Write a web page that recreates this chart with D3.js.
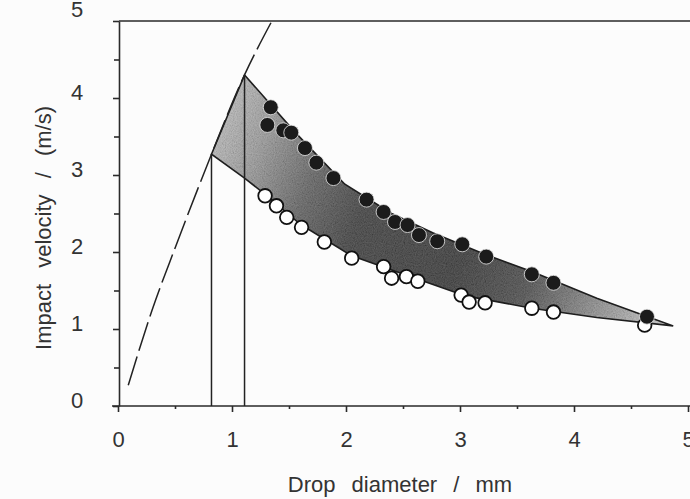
<!DOCTYPE html>
<html>
<head>
<meta charset="utf-8">
<script src="https://cdn.jsdelivr.net/npm/d3@7"></script>
<style>
  body { margin: 0; background: #fcfcfc; }
  svg { display: block; font-family: "Liberation Sans", Arial, sans-serif; }
  .axis path, .axis line { stroke: #2a2a2a; stroke-width: 1.6; }
  .axis text { fill: #333; font-size: 22px; }
  .label { fill: #333; font-size: 22px; word-spacing: 10px; }
</style>
</head>
<body>
<div id="chart-area"></div>
<script>
// drop diameter (mm) / impact velocity (m/s)
const filledD = [1.34, 1.31, 1.45, 1.52, 1.64, 1.74, 1.89, 2.18, 2.33, 2.43, 2.54, 2.64, 2.80, 3.02, 3.23, 3.63, 3.82, 4.64];
const filledV = [3.88, 3.65, 3.58, 3.55, 3.35, 3.16, 2.96, 2.68, 2.52, 2.39, 2.35, 2.22, 2.14, 2.10, 1.94, 1.71, 1.60, 1.16];

const openD = [1.29, 1.39, 1.48, 1.61, 1.81, 2.05, 2.33, 2.40, 2.53, 2.63, 3.01, 3.08, 3.22, 3.63, 3.82, 4.62];
const openV = [2.73, 2.60, 2.45, 2.32, 2.13, 1.92, 1.81, 1.66, 1.68, 1.62, 1.44, 1.35, 1.34, 1.27, 1.22, 1.05];

// terminal velocity curve (dashed)
const curveD = [0.09, 0.30, 0.50, 0.70, 0.82, 1.11, 1.35];
const curveV = [0.27, 1.25, 2.05, 2.82, 3.27, 4.30, 5.00];

// shaded band edges
const upperD = [0.82, 1.11, 1.55, 1.99, 2.40, 2.76, 3.20, 3.64, 4.20, 4.87];
const upperV = [3.27, 4.30, 3.56, 2.88, 2.50, 2.25, 1.98, 1.74, 1.40, 1.04];
const lowerD = [1.11, 1.29, 1.60, 2.05, 2.47, 3.05, 3.63, 4.20];
const lowerV = [2.96, 2.75, 2.36, 1.95, 1.73, 1.43, 1.27, 1.15];

// vertical markers
const markD = [0.82, 1.11];
const markV = [3.27, 4.30];

const xTicks = [0, 1, 2, 3, 4, 5];
const yTicks = [0, 1, 2, 3, 4, 5];
const xMinor = [0.5, 1.5, 2.5, 3.5, 4.5];
const yMinor = [0.5, 1.5, 2.5, 3.5, 4.5];

/* SVG */
const W = 690, H = 499;
const svg = d3.select('#chart-area').append('svg')
    .attr('width', W).attr('height', H);

const x = d3.scaleLinear().domain([0, 5]).range([118, 688]);
const y = d3.scaleLinear().domain([0, 5]).range([406, 21]);

/* Defs: gradient, grain, clip */
const defs = svg.append('defs');
const grad = defs.append('linearGradient')
    .attr('id', 'band').attr('gradientUnits', 'userSpaceOnUse')
    .attr('x1', x(0.82)).attr('x2', x(4.87)).attr('y1', y(3.6)).attr('y2', y(1.0));
[[0, '#b8b8b8'], [0.1, '#909090'], [0.22, '#505050'], [0.34, '#262626'],
 [0.56, '#1e1e1e'], [0.7, '#363636'], [0.84, '#808080'], [1, '#d0d0d0']]
    .forEach(s => grad.append('stop').attr('offset', s[0]).attr('stop-color', s[1]));

const f = defs.append('filter').attr('id', 'grain')
    .attr('x', 0).attr('y', 0).attr('width', 1).attr('height', 1);
f.append('feTurbulence').attr('type', 'fractalNoise')
    .attr('baseFrequency', 0.9).attr('numOctaves', 2).attr('seed', 5).attr('result', 'noise');
f.append('feColorMatrix').attr('in', 'noise').attr('type', 'matrix')
    .attr('values', '0.5 0.5 0.5 0 -0.25  0.5 0.5 0.5 0 -0.25  0.5 0.5 0.5 0 -0.25  0 0 0 0 1');

/* Frame */
svg.append('line')
    .attr('x1', x(0) + 1).attr('x2', W).attr('y1', y(5)).attr('y2', y(5))
    .attr('stroke', '#2a2a2a').attr('stroke-width', 1.6);

/* Axis */
const xAxis = svg.append('g').attr('class', 'axis')
    .attr('transform', `translate(0,${y(0)})`)
    .call(d3.axisBottom(x).tickValues(xTicks).tickSizeInner(6).tickSizeOuter(0)
        .tickPadding(19).tickFormat(d3.format('d')));
xAxis.select('.domain').attr('d', `M${x(0) - 6},0H${W}`);
svg.append('g').attr('class', 'axis')
    .attr('transform', `translate(0,${y(0)})`)
    .call(d3.axisBottom(x).tickValues(xMinor).tickSize(3).tickFormat(''))
    .select('.domain').remove();

const yAxis = svg.append('g').attr('class', 'axis')
    .attr('transform', `translate(${x(0) + 1},0)`)
    .call(d3.axisLeft(y).tickValues(yTicks).tickSizeInner(6).tickSizeOuter(0)
        .tickPadding(36).tickFormat(d3.format('d')));
yAxis.selectAll('text').attr('dy', '0.05em').attr('text-anchor', 'middle');
yAxis.selectAll('.tick').filter(d => d === 5).select('text').attr('dy', '-0.2em');
svg.append('g').attr('class', 'axis')
    .attr('transform', `translate(${x(0) + 1},0)`)
    .call(d3.axisLeft(y).tickValues(yMinor).tickSize(5).tickFormat(''))
    .select('.domain').remove();

/* Labels */
svg.append('text').attr('class', 'label')
    .attr('x', 400).attr('y', 492).attr('text-anchor', 'middle')
    .text('Drop diameter / mm');
svg.append('text').attr('class', 'label')
    .attr('transform', `translate(51,${228}) rotate(-90)`)
    .attr('text-anchor', 'middle')
    .text('Impact velocity / (m/s)');

/* Shaded band */
const upperPts = upperD.map((d, i) => [d, upperV[i]]);
const lowerPts = lowerD.map((d, i) => [d, lowerV[i]]).reverse();
const bandPts = upperPts.concat(lowerPts);
const bandLine = d3.line().x(d => x(d[0])).y(d => y(d[1])).curve(d3.curveLinearClosed);

defs.append('clipPath').attr('id', 'bandClip')
    .append('path').attr('d', bandLine(bandPts));

svg.append('path').attr('d', bandLine(bandPts)).attr('fill', 'url(#band)');
svg.append('rect')
    .attr('x', x(0.8)).attr('y', y(4.4)).attr('width', x(4.9) - x(0.8)).attr('height', y(0.9) - y(4.4))
    .attr('filter', 'url(#grain)').attr('clip-path', 'url(#bandClip)')
    .attr('opacity', 0.3);
svg.append('path').attr('d', bandLine(bandPts))
    .attr('fill', 'none').attr('stroke', '#1e1e1e').attr('stroke-width', 1.6)
    .attr('stroke-linejoin', 'miter');

/* Vertical markers */
svg.selectAll('.mark').data(markD).enter().append('line')
    .attr('class', 'mark')
    .attr('x1', d => x(d)).attr('x2', d => x(d))
    .attr('y1', y(0)).attr('y2', (d, i) => y(markV[i]))
    .attr('stroke', '#222').attr('stroke-width', 1.5);

/* Dashed curve */
const curve = d3.line().x(d => x(d[0])).y(d => y(d[1])).curve(d3.curveMonotoneX);
svg.append('path')
    .attr('d', curve(curveD.map((d, i) => [d, curveV[i]])))
    .attr('fill', 'none').attr('stroke', '#222').attr('stroke-width', 1.5)
    .attr('stroke-dasharray', '30,6');

/* Points */
svg.selectAll('.open').data(openD).enter().append('circle')
    .attr('class', 'open')
    .attr('cx', d => x(d)).attr('cy', (d, i) => y(openV[i])).attr('r', 6.8)
    .attr('fill', '#fff').attr('stroke', '#111').attr('stroke-width', 1.8);

svg.selectAll('.filled').data(filledD).enter().append('circle')
    .attr('class', 'filled')
    .attr('cx', d => x(d)).attr('cy', (d, i) => y(filledV[i])).attr('r', 7.5)
    .attr('fill', '#1b1b1b').attr('stroke', '#e8e8e8').attr('stroke-width', 0.8);
</script>
</body>
</html>
